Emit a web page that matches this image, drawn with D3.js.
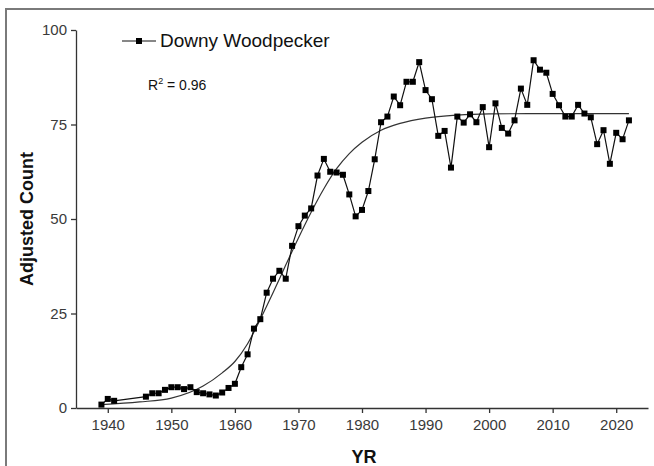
<!DOCTYPE html>
<html>
<head>
<meta charset="utf-8">
<script src="https://cdn.jsdelivr.net/npm/d3@7"></script>
<style>
  body { margin: 0; background: #fff; }
  text { font-family: Arial, "Liberation Sans", sans-serif; }
</style>
</head>
<body>
<script>
var years = [1939, 1940, 1941, 1946, 1947, 1948, 1949, 1950, 1951, 1952, 1953, 1954, 1955, 1956, 1957, 1958, 1959,
    1960, 1961, 1962, 1963, 1964, 1965, 1966, 1967, 1968, 1969, 1970, 1971, 1972, 1973, 1974, 1975, 1976, 1977, 1978, 1979,
    1980, 1981, 1982, 1983, 1984, 1985, 1986, 1987, 1988, 1989, 1990, 1991, 1992, 1993, 1994, 1995, 1996, 1997, 1998, 1999,
    2000, 2001, 2002, 2003, 2004, 2005, 2006, 2007, 2008, 2009, 2010, 2011, 2012, 2013, 2014, 2015, 2016, 2017, 2018, 2019,
    2020, 2021, 2022];
var counts = [0.9, 2.4, 1.9, 3.0, 3.9, 3.9, 4.8, 5.5, 5.5, 5.0, 5.5, 4.2, 3.9, 3.6, 3.3, 4.1, 5.3,
    6.4, 10.8, 14.2, 21.0, 23.5, 30.5, 34.2, 36.3, 34.2, 42.9, 48.1, 50.9, 52.8, 61.5, 65.9, 62.5, 62.3, 61.7, 56.5, 50.7,
    52.4, 57.4, 65.8, 75.6, 77.1, 82.4, 80.1, 86.3, 86.3, 91.5, 84.1, 81.7, 72.0, 73.3, 63.6, 77.1, 75.5, 77.7, 75.6, 79.6,
    69.0, 80.6, 74.1, 72.6, 76.1, 84.5, 80.2, 92.0, 89.5, 88.7, 83.1, 80.1, 77.1, 77.1, 80.2, 77.9, 76.9, 69.8, 73.5, 64.6,
    72.8, 71.1, 76.1];

// fitted curve at sample years
var fitYears = [1939, 1945, 1950, 1955, 1958, 1960, 1962, 1964, 1966, 1968, 1970, 1972, 1974, 1976, 1978, 1980,
    1983, 1986, 1990, 1995, 2000, 2010, 2022];
var fitValues = [0.9, 1.6, 2.6, 5.8, 9.3, 12.3, 17.0, 23.5, 30.5, 37.8, 45.0, 51.8, 58.0, 63.3, 67.3, 70.3,
    73.5, 75.3, 76.7, 77.5, 77.8, 77.9, 77.9];

var xTicks = [1940, 1950, 1960, 1970, 1980, 1990, 2000, 2010, 2020];
var yTicks = [0, 25, 50, 75, 100];
var seriesName = "Downy Woodpecker";
var r2Value = "0.96";

var width = 654,
    height = 466;

var svg = d3.select("body")
    .append("svg")
    .attr("width", width)
    .attr("height", height);

//grey frame round the figure
svg.append("rect")
    .attr("x", 6)
    .attr("y", 9)
    .attr("width", 800)
    .attr("height", 600)
    .attr("fill", "none")
    .attr("stroke", "#7a7a7a")
    .attr("stroke-width", 2);

var x = d3.scaleLinear()
    .domain([1935, 2025])
    .range([76, 648]);

var y = d3.scaleLinear()
    .domain([0, 100])
    .range([408, 30]);

//axes
var xAxis = svg.append("g")
    .attr("transform", "translate(0," + y(0) + ")")
    .call(d3.axisBottom(x).tickValues(xTicks).tickFormat(d3.format("d")).tickSize(5).tickSizeOuter(0).tickPadding(6));

var yAxis = svg.append("g")
    .attr("transform", "translate(" + x(1935) + ",0)")
    .call(d3.axisLeft(y).tickValues(yTicks).tickSize(5).tickSizeOuter(0).tickPadding(4));

svg.selectAll(".domain, .tick line")
    .attr("stroke", "#333")
    .attr("stroke-width", 1.3);

svg.selectAll(".tick text")
    .attr("fill", "#3a3a3a")
    .style("font-size", "15px")
    .style("font-family", "Arial, 'Liberation Sans', sans-serif");

//axis titles
svg.append("text")
    .attr("x", 364)
    .attr("y", 463)
    .attr("text-anchor", "middle")
    .style("font-size", "18px")
    .style("font-weight", "bold")
    .attr("fill", "#111")
    .text("YR");

svg.append("text")
    .attr("transform", "translate(33,219) rotate(-90)")
    .attr("text-anchor", "middle")
    .style("font-size", "18px")
    .style("font-weight", "bold")
    .attr("fill", "#111")
    .text("Adjusted Count");

//fitted curve
var fitLine = d3.line()
    .x(function(d, i){ return x(fitYears[i]); })
    .y(function(d){ return y(d); })
    .curve(d3.curveMonotoneX);

svg.append("path")
    .datum(fitValues)
    .attr("d", fitLine)
    .attr("fill", "none")
    .attr("stroke", "#333")
    .attr("stroke-width", 1.2);

//observed series
var dataLine = d3.line()
    .x(function(d, i){ return x(years[i]); })
    .y(function(d){ return y(d); });

svg.append("path")
    .datum(counts)
    .attr("d", dataLine)
    .attr("fill", "none")
    .attr("stroke", "#111")
    .attr("stroke-width", 1.2);

svg.selectAll(".pt")
    .data(counts)
    .enter()
    .append("rect")
    .attr("class", "pt")
    .attr("x", function(d, i){ return x(years[i]) - 3; })
    .attr("y", function(d){ return y(d) - 3; })
    .attr("width", 6)
    .attr("height", 6)
    .attr("fill", "#000");

//legend
var legend = svg.append("g");
legend.append("line")
    .attr("x1", 122).attr("x2", 156)
    .attr("y1", 41).attr("y2", 41)
    .attr("stroke", "#111")
    .attr("stroke-width", 1.2);
legend.append("rect")
    .attr("x", 136).attr("y", 38)
    .attr("width", 6).attr("height", 6)
    .attr("fill", "#000");
legend.append("text")
    .attr("x", 160)
    .attr("y", 47)
    .style("font-size", "19px")
    .attr("fill", "#111")
    .text(seriesName);

var r2 = svg.append("text")
    .attr("x", 148)
    .attr("y", 90)
    .style("font-size", "14px")
    .attr("fill", "#111");
r2.append("tspan").text("R");
r2.append("tspan").attr("dy", -6).style("font-size", "9px").text("2");
r2.append("tspan").attr("dy", 6).text(" = " + r2Value);
</script>
</body>
</html>
